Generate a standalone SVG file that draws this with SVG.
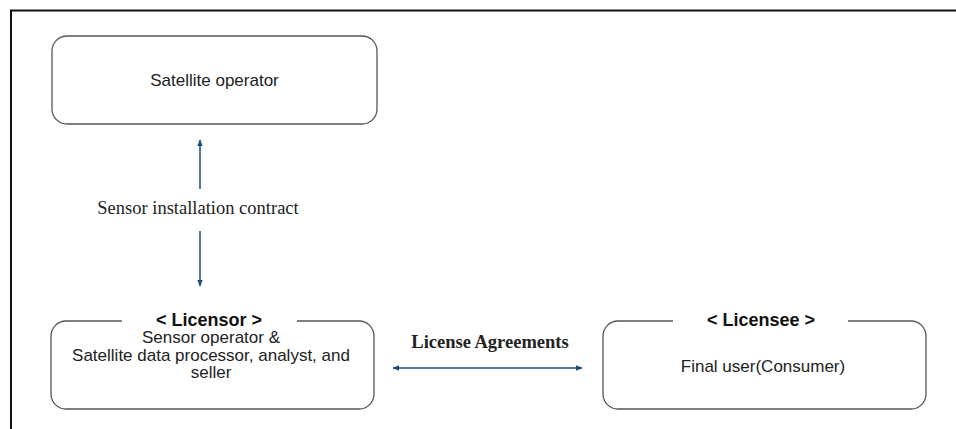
<svg xmlns="http://www.w3.org/2000/svg" width="956" height="429" viewBox="0 0 956 429">
<style>
.box{fill:#fff;stroke:#555;stroke-width:1.3}
.sans{font-family:"Liberation Sans",Arial,sans-serif;font-size:17px;fill:#222;text-anchor:middle}
.hdr{font-family:"Liberation Sans",Arial,sans-serif;font-size:18px;font-weight:bold;fill:#111;text-anchor:middle}
.serif{font-family:"Liberation Serif","Times New Roman",serif;font-size:18.5px;fill:#222;text-anchor:middle}
.conn{stroke:#1f4e79;stroke-width:1.5;fill:none}
</style>
<defs>
<marker id="ah" viewBox="0 0 10 10" refX="9" refY="5" markerWidth="7" markerHeight="7" orient="auto-start-reverse" markerUnits="userSpaceOnUse">
<path d="M0,1 L10,5 L0,9 Z" fill="#1f4e79"/>
</marker>
</defs>
<rect width="956" height="429" fill="#fff"/>
<path d="M11,429 L11,10.5 L956,10.5" fill="none" stroke="#111" stroke-width="2"/>
<g id="satellite-operator">
<rect class="box" x="52" y="36" width="325" height="88" rx="15"/>
<text class="sans" x="214.5" y="86">Satellite operator</text>
</g>
<g id="licensor">
<rect class="box" x="51" y="321" width="323" height="88" rx="15"/>
<rect x="122" y="314" width="175" height="12" fill="#fff"/>
<text class="hdr" x="209" y="326">&lt; Licensor &gt;</text>
<text class="sans" x="211" y="343">Sensor operator &amp;</text>
<text class="sans" x="211" y="361">Satellite data processor, analyst, and</text>
<text class="sans" x="211" y="378">seller</text>
</g>
<g id="licensee">
<rect class="box" x="603" y="321" width="323" height="88" rx="15"/>
<rect x="673" y="314" width="175" height="12" fill="#fff"/>
<text class="hdr" x="761" y="326">&lt; Licensee &gt;</text>
<text class="sans" x="763" y="372">Final user(Consumer)</text>
</g>
<g id="connectors">
<line class="conn" x1="200" y1="189" x2="200" y2="140" marker-end="url(#ah)"/>
<line class="conn" x1="200" y1="231" x2="200" y2="286" marker-end="url(#ah)"/>
<text class="serif" x="198" y="214">Sensor installation contract</text>
<line class="conn" x1="393" y1="368" x2="582" y2="368" marker-start="url(#ah)" marker-end="url(#ah)"/>
<text class="serif" x="490" y="348" font-weight="bold" font-size="16.5px">License Agreements</text>
</g>
</svg>
